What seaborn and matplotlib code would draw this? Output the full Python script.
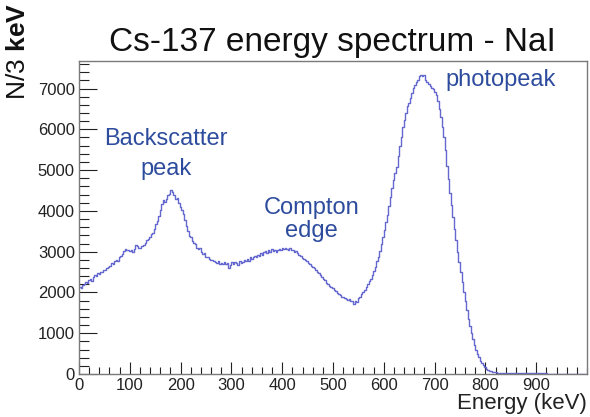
import numpy as np
import pandas as pd
import matplotlib
matplotlib.use("Agg")
import matplotlib.pyplot as plt
from matplotlib.ticker import MultipleLocator
import seaborn as sns

# Cs-137 spectrum measured with a NaI detector, 3 keV bins from 0 to 999 keV
bin_width = 3
counts_000_099 = [2130, 2110, 2190, 2200, 2260, 2240, 2300, 2320, 2290, 2380,
                  2420, 2400, 2470, 2450, 2510, 2490, 2560, 2540, 2600, 2620,
                  2660, 2720, 2690, 2760, 2800, 2770, 2860, 2900, 2950, 3020,
                  3070, 3030, 3050]
counts_099_198 = [3020, 3040, 3000, 3060, 3170, 3130, 3100, 3080, 3150, 3170,
                  3220, 3280, 3310, 3360, 3430, 3460, 3560, 3680, 3760, 3880,
                  4020, 4180, 4260, 4210, 4300, 4380, 4420, 4510, 4460, 4380,
                  4300, 4320, 4200, 4100]
counts_201_299 = [4020, 3930, 3780, 3640, 3500, 3380, 3360, 3260, 3220, 3180,
                  3100, 3060, 3080, 3000, 2950, 2970, 2880, 2860, 2810, 2790,
                  2800, 2760, 2750, 2720, 2760, 2700, 2730, 2690, 2740, 2700,
                  2720, 2600, 2680]
counts_300_398 = [2740, 2700, 2750, 2720, 2680, 2770, 2710, 2740, 2790, 2760,
                  2820, 2780, 2880, 2830, 2870, 2900, 2860, 2930, 2900, 2970,
                  2930, 2980, 3010, 2960, 3040, 3000, 3060, 3020, 3040, 3000,
                  3050, 3070, 3040]
counts_399_498 = [3080, 3060, 3090, 3070, 3040, 3080, 3030, 3050, 2990, 3010,
                  2960, 2920, 2900, 2840, 2830, 2790, 2760, 2720, 2700, 2650,
                  2620, 2590, 2540, 2500, 2470, 2420, 2390, 2340, 2300, 2240,
                  2210, 2170, 2140, 2100]
counts_501_599 = [2060, 2030, 1990, 1970, 1940, 1900, 1890, 1860, 1830, 1820,
                  1840, 1780, 1790, 1720, 1800, 1760, 1860, 1900, 1950, 2010,
                  2070, 2140, 2200, 2270, 2340, 2430, 2520, 2630, 2760, 2880,
                  3020, 3180, 3350]
counts_600_701 = [3540, 3720, 3900, 4120, 4350, 4560, 4760, 4940, 5080, 5340,
                  5600, 5800, 6050, 6230, 6400, 6560, 6640, 6780, 6900, 7020,
                  7080, 7150, 7200, 7310, 7330, 7300, 7320, 7200, 7150, 7110,
                  7050, 7020, 6980, 6920]
counts_702_800 = [6850, 6700, 6500, 6300, 6060, 5800, 5490, 5100, 4780, 4450,
                  4150, 3850, 3560, 3280, 3000, 2750, 2500, 2250, 2000, 1780,
                  1560, 1360, 1180, 1000, 850, 720, 600, 500, 410, 330,
                  270, 210, 170]
counts_801_999 = [130, 100, 80, 65, 55, 45, 40, 36, 32, 30,
                  28, 26, 25, 24, 23, 22, 22, 21, 20, 20,
                  19, 19, 18, 18, 17, 17, 16, 16, 16, 15,
                  15, 15, 14, 14, 14, 14, 13, 13, 13, 13,
                  12, 12, 12, 12, 12, 11, 11, 11, 11, 11,
                  11, 10, 10, 10, 10, 10, 10, 10, 10, 10,
                  9, 9, 9, 9, 9, 9]

counts = (counts_000_099 + counts_099_198 + counts_201_299 + counts_300_398
          + counts_399_498 + counts_501_599 + counts_600_701 + counts_702_800
          + counts_801_999)
n_bins = len(counts)
centers = np.arange(n_bins) * bin_width + bin_width / 2
spectrum = pd.DataFrame({"energy": centers, "counts": counts})

# feature labels: text, energy (keV), baseline height (counts)
annotations = [("Backscatter", 171, 5612),
               ("peak", 171, 4875),
               ("Compton", 458, 3916),
               ("edge", 458, 3359),
               ("photopeak", 830, 7060)]

line_color = "#6568cf"
text_color = "#2e4c9e"
frame_color = "#7a7a7a"

sns.set_theme(style="white")
plt.rcParams["font.family"] = ["Liberation Sans", "DejaVu Sans"]
plt.rcParams["mathtext.fontset"] = "custom"
plt.rcParams["mathtext.bf"] = "Liberation Sans:bold"
plt.rcParams["mathtext.rm"] = "Liberation Sans"

fig = plt.figure(figsize=(5.9, 4.17), dpi=100)
ax = fig.add_axes([0.1339, 0.1031, 0.8610, 0.7506])

sns.histplot(data=spectrum, x="energy", weights="counts",
             binwidth=bin_width, binrange=(0, n_bins * bin_width),
             element="step", fill=False, color=line_color, linewidth=1.0,
             ax=ax)

ax.set_xlim(0, 1000)
ax.set_ylim(0, 7675)
ax.xaxis.set_major_locator(MultipleLocator(100))
ax.xaxis.set_minor_locator(MultipleLocator(20))
ax.yaxis.set_major_locator(MultipleLocator(1000))
ax.yaxis.set_minor_locator(MultipleLocator(200))
ax.tick_params(axis="both", which="both", direction="in", colors="#222222",
               labelsize=12, top=False, right=False, bottom=True, left=True)
ax.tick_params(axis="x", which="major", length=9, width=0.8, pad=3)
ax.tick_params(axis="x", which="minor", length=5, width=0.8)
ax.tick_params(axis="y", which="major", length=13, width=0.8, pad=3)
ax.tick_params(axis="y", which="minor", length=7, width=0.8)
ax.set_xticks([t for t in range(0, 1000, 100)])
for side in ax.spines.values():
    side.set_color(frame_color)
    side.set_linewidth(1.0)

ax.set_xlabel("")
ax.set_ylabel("")
fig.text(0.995, 0.020, "Energy (keV)", ha="right", va="baseline",
         fontsize=16, color="#222222")
fig.text(0.030, 0.760, r"N/3 $\mathbf{keV}$", rotation=90, ha="center",
         va="bottom", fontsize=19, color="#111111")
fig.text(0.564, 0.877, "Cs-137 energy spectrum - NaI", ha="center",
         va="baseline", fontsize=24, color="#111111")

for label, x, y in annotations:
    ax.text(x, y, label, ha="center", va="baseline", fontsize=17,
            color=text_color)

fig.savefig("out.png", dpi=100)
